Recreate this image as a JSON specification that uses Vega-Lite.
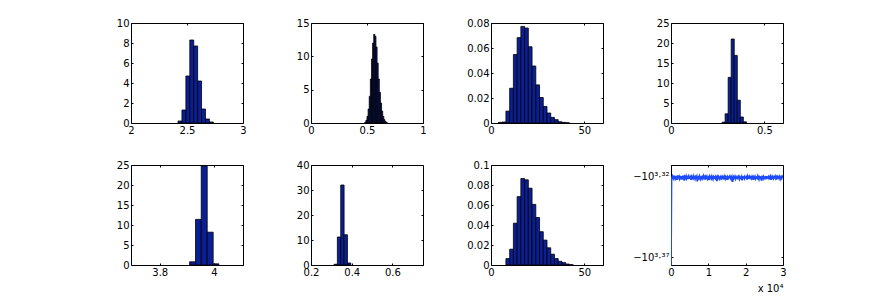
{
"$schema":"https://vega.github.io/schema/vega-lite/v6.json",
"background":"#ffffff",
"padding":{"left":115,"top":17,"right":5,"bottom":5},
"bounds":"flush",
"columns":4,
"spacing":{"row":42,"column":68},
"datasets":{
"hist":[
{"p":1,"a":2.42,"b":2.455,"h":0.2},{"p":1,"a":2.455,"b":2.49,"h":1.3},{"p":1,"a":2.49,"b":2.525,"h":4.7},{"p":1,"a":2.525,"b":2.56,"h":8.3},{"p":1,"a":2.56,"b":2.595,"h":7.7},{"p":1,"a":2.595,"b":2.63,"h":4.2},{"p":1,"a":2.63,"b":2.665,"h":1.4},{"p":1,"a":2.665,"b":2.7,"h":0.4},{"p":1,"a":2.7,"b":2.735,"h":0.1},
{"p":2,"a":0.48,"b":0.49,"h":0.1},{"p":2,"a":0.49,"b":0.5,"h":0.4},{"p":2,"a":0.5,"b":0.51,"h":1.0},{"p":2,"a":0.51,"b":0.52,"h":2.1},{"p":2,"a":0.52,"b":0.53,"h":4.0},{"p":2,"a":0.53,"b":0.54,"h":6.6},{"p":2,"a":0.54,"b":0.55,"h":9.6},{"p":2,"a":0.55,"b":0.56,"h":12.0},{"p":2,"a":0.56,"b":0.57,"h":13.3},{"p":2,"a":0.57,"b":0.58,"h":13.0},{"p":2,"a":0.58,"b":0.59,"h":11.4},{"p":2,"a":0.59,"b":0.6,"h":9.0},{"p":2,"a":0.6,"b":0.61,"h":6.6},{"p":2,"a":0.61,"b":0.62,"h":4.6},{"p":2,"a":0.62,"b":0.63,"h":3.0},{"p":2,"a":0.63,"b":0.64,"h":1.8},{"p":2,"a":0.64,"b":0.65,"h":1.0},{"p":2,"a":0.65,"b":0.66,"h":0.5},{"p":2,"a":0.66,"b":0.67,"h":0.2},{"p":2,"a":0.67,"b":0.68,"h":0.1},
{"p":3,"a":4,"b":6,"h":0.0005},{"p":3,"a":6,"b":8,"h":0.0008},{"p":3,"a":8,"b":10,"h":0.0095},{"p":3,"a":10,"b":12,"h":0.0278},{"p":3,"a":12,"b":14,"h":0.0548},{"p":3,"a":14,"b":16,"h":0.0683},{"p":3,"a":16,"b":18,"h":0.0773},{"p":3,"a":18,"b":20,"h":0.076},{"p":3,"a":20,"b":22,"h":0.061},{"p":3,"a":22,"b":24,"h":0.0456},{"p":3,"a":24,"b":26,"h":0.0305},{"p":3,"a":26,"b":28,"h":0.0204},{"p":3,"a":28,"b":30,"h":0.0132},{"p":3,"a":30,"b":32,"h":0.008},{"p":3,"a":32,"b":34,"h":0.0045},{"p":3,"a":34,"b":36,"h":0.0027},{"p":3,"a":36,"b":38,"h":0.001},{"p":3,"a":38,"b":40,"h":0.0005},{"p":3,"a":40,"b":42,"h":0.0002},
{"p":4,"a":0.2736,"b":0.2899,"h":0.2},{"p":4,"a":0.2899,"b":0.3062,"h":2.3},{"p":4,"a":0.3062,"b":0.3225,"h":11.4},{"p":4,"a":0.3225,"b":0.3388,"h":21.0},{"p":4,"a":0.3388,"b":0.3551,"h":16.9},{"p":4,"a":0.3551,"b":0.3714,"h":5.7},{"p":4,"a":0.3714,"b":0.3877,"h":1.5},{"p":4,"a":0.3877,"b":0.404,"h":0.3},
{"p":5,"a":3.91,"b":3.932,"h":0.8},{"p":5,"a":3.932,"b":3.953,"h":11.4},{"p":5,"a":3.953,"b":3.975,"h":24.8},{"p":5,"a":3.975,"b":3.997,"h":8.2},{"p":5,"a":3.997,"b":4.018,"h":0.3},
{"p":6,"a":0.313,"b":0.3295,"h":0.3},{"p":6,"a":0.3295,"b":0.346,"h":11.2},{"p":6,"a":0.346,"b":0.3625,"h":32.0},{"p":6,"a":0.3625,"b":0.379,"h":12.1},{"p":6,"a":0.379,"b":0.3955,"h":0.8},
{"p":7,"a":8,"b":10,"h":0.0064},{"p":7,"a":10,"b":12,"h":0.0158},{"p":7,"a":12,"b":14,"h":0.0418},{"p":7,"a":14,"b":16,"h":0.0684},{"p":7,"a":16,"b":18,"h":0.0865},{"p":7,"a":18,"b":20,"h":0.0852},{"p":7,"a":20,"b":22,"h":0.0768},{"p":7,"a":22,"b":24,"h":0.0606},{"p":7,"a":24,"b":26,"h":0.0475},{"p":7,"a":26,"b":28,"h":0.0333},{"p":7,"a":28,"b":30,"h":0.0249},{"p":7,"a":30,"b":32,"h":0.0172},{"p":7,"a":32,"b":34,"h":0.0108},{"p":7,"a":34,"b":36,"h":0.0064},{"p":7,"a":36,"b":38,"h":0.0037},{"p":7,"a":38,"b":40,"h":0.0024},{"p":7,"a":40,"b":42,"h":0.001},{"p":7,"a":42,"b":44,"h":0.0003}
],
"trace":[
{"t":0,"e":3.3749},
{"t":150,"e":3.3205},{"t":300,"e":3.3213},{"t":450,"e":3.3201},{"t":600,"e":3.321},{"t":750,"e":3.3218},{"t":900,"e":3.3203},{"t":1050,"e":3.3207},{"t":1200,"e":3.3215},{"t":1350,"e":3.3199},{"t":1500,"e":3.3211},{"t":1650,"e":3.3223},{"t":1800,"e":3.3204},{"t":1950,"e":3.3208},{"t":2100,"e":3.3202},{"t":2250,"e":3.3217},{"t":2400,"e":3.3206},{"t":2550,"e":3.3212},{"t":2700,"e":3.32},{"t":2850,"e":3.3221},{"t":3000,"e":3.3209},
{"t":3150,"e":3.3203},{"t":3300,"e":3.3214},{"t":3450,"e":3.3207},{"t":3600,"e":3.3229},{"t":3750,"e":3.3205},{"t":3900,"e":3.3211},{"t":4050,"e":3.3201},{"t":4200,"e":3.3216},{"t":4350,"e":3.3208},{"t":4500,"e":3.3204},{"t":4650,"e":3.3219},{"t":4800,"e":3.3202},{"t":4950,"e":3.321},{"t":5100,"e":3.3213},{"t":5250,"e":3.3206},{"t":5400,"e":3.3224},{"t":5550,"e":3.3203},{"t":5700,"e":3.3209},{"t":5850,"e":3.3215},{"t":6000,"e":3.32},
{"t":6150,"e":3.3212},{"t":6300,"e":3.3207},{"t":6450,"e":3.3218},{"t":6600,"e":3.3204},{"t":6750,"e":3.321},{"t":6900,"e":3.3202},{"t":7050,"e":3.3233},{"t":7200,"e":3.3208},{"t":7350,"e":3.3205},{"t":7500,"e":3.3214},{"t":7650,"e":3.3201},{"t":7800,"e":3.3211},{"t":7950,"e":3.322},{"t":8100,"e":3.3206},{"t":8250,"e":3.3203},{"t":8400,"e":3.3216},{"t":8550,"e":3.3209},{"t":8700,"e":3.3199},{"t":8850,"e":3.3213},{"t":9000,"e":3.3207},
{"t":9150,"e":3.3222},{"t":9300,"e":3.3204},{"t":9450,"e":3.321},{"t":9600,"e":3.3202},{"t":9750,"e":3.3217},{"t":9900,"e":3.3208},{"t":10050,"e":3.3205},{"t":10200,"e":3.3226},{"t":10350,"e":3.3203},{"t":10500,"e":3.3212},{"t":10650,"e":3.3206},{"t":10800,"e":3.3215},{"t":10950,"e":3.3201},{"t":11100,"e":3.3209},{"t":11250,"e":3.3219},{"t":11400,"e":3.3204},{"t":11550,"e":3.3211},{"t":11700,"e":3.3207},{"t":11850,"e":3.3214},{"t":12000,"e":3.3202},
{"t":12150,"e":3.3208},{"t":12300,"e":3.3231},{"t":12450,"e":3.3205},{"t":12600,"e":3.3213},{"t":12750,"e":3.3203},{"t":12900,"e":3.321},{"t":13050,"e":3.3218},{"t":13200,"e":3.3206},{"t":13350,"e":3.3201},{"t":13500,"e":3.3215},{"t":13650,"e":3.3209},{"t":13800,"e":3.3204},{"t":13950,"e":3.3221},{"t":14100,"e":3.3207},{"t":14250,"e":3.3212},{"t":14400,"e":3.3202},{"t":14550,"e":3.3216},{"t":14700,"e":3.3205},{"t":14850,"e":3.321},{"t":15000,"e":3.3223},
{"t":15150,"e":3.3203},{"t":15300,"e":3.3208},{"t":15450,"e":3.3214},{"t":15600,"e":3.3206},{"t":15750,"e":3.32},{"t":15900,"e":3.3211},{"t":16050,"e":3.3219},{"t":16200,"e":3.3204},{"t":16350,"e":3.3209},{"t":16500,"e":3.3237},{"t":16650,"e":3.3205},{"t":16800,"e":3.3213},{"t":16950,"e":3.3202},{"t":17100,"e":3.3207},{"t":17250,"e":3.3217},{"t":17400,"e":3.3203},{"t":17550,"e":3.321},{"t":17700,"e":3.3215},{"t":17850,"e":3.3206},{"t":18000,"e":3.3201},
{"t":18150,"e":3.3212},{"t":18300,"e":3.322},{"t":18450,"e":3.3204},{"t":18600,"e":3.3208},{"t":18750,"e":3.3214},{"t":18900,"e":3.3205},{"t":19050,"e":3.3227},{"t":19200,"e":3.3202},{"t":19350,"e":3.3211},{"t":19500,"e":3.3207},{"t":19650,"e":3.3216},{"t":19800,"e":3.3203},{"t":19950,"e":3.3209},{"t":20100,"e":3.3213},{"t":20250,"e":3.3206},{"t":20400,"e":3.3222},{"t":20550,"e":3.3201},{"t":20700,"e":3.321},{"t":20850,"e":3.3205},{"t":21000,"e":3.3218},
{"t":21150,"e":3.3204},{"t":21300,"e":3.3212},{"t":21450,"e":3.3207},{"t":21600,"e":3.3215},{"t":21750,"e":3.3202},{"t":21900,"e":3.3209},{"t":22050,"e":3.3224},{"t":22200,"e":3.3205},{"t":22350,"e":3.3211},{"t":22500,"e":3.3203},{"t":22650,"e":3.3217},{"t":22800,"e":3.3208},{"t":22950,"e":3.3206},{"t":23100,"e":3.3213},{"t":23250,"e":3.32},{"t":23400,"e":3.321},{"t":23550,"e":3.322},{"t":23700,"e":3.3204},{"t":23850,"e":3.3207},{"t":24000,"e":3.3214},
{"t":24150,"e":3.3202},{"t":24300,"e":3.3229},{"t":24450,"e":3.3206},{"t":24600,"e":3.3211},{"t":24750,"e":3.3203},{"t":24900,"e":3.3216},{"t":25050,"e":3.3208},{"t":25200,"e":3.3205},{"t":25350,"e":3.3212},{"t":25500,"e":3.3201},{"t":25650,"e":3.3219},{"t":25800,"e":3.3207},{"t":25950,"e":3.321},{"t":26100,"e":3.3204},{"t":26250,"e":3.3215},{"t":26400,"e":3.3209},{"t":26550,"e":3.3202},{"t":26700,"e":3.3223},{"t":26850,"e":3.3206},{"t":27000,"e":3.3213},
{"t":27150,"e":3.3203},{"t":27300,"e":3.3211},{"t":27450,"e":3.3217},{"t":27600,"e":3.3205},{"t":27750,"e":3.3208},{"t":27900,"e":3.3201},{"t":28050,"e":3.3214},{"t":28200,"e":3.3207},{"t":28350,"e":3.3221},{"t":28500,"e":3.3204},{"t":28650,"e":3.321},{"t":28800,"e":3.3206},{"t":28950,"e":3.3215},{"t":29100,"e":3.3202},{"t":29250,"e":3.3209},{"t":29400,"e":3.3218},{"t":29550,"e":3.3205},{"t":29700,"e":3.3212},{"t":29850,"e":3.3203},{"t":30000,"e":3.3208}
]
},
"concat":[
{"width":112,"height":100,"data":{"name":"hist"},"transform":[{"filter":"datum.p==1"}],"resolve":{"axis":{"x":"independent","y":"independent"}},"layer":[
 {"mark":{"type":"rect","fill":"#0a1e96","stroke":"#000000","strokeWidth":0.8},
 "encoding":{"x":{"field":"a","type":"quantitative","title":null,"scale":{"domain":[2,3],"nice":false,"zero":false},"axis":{"orient":"bottom","values":[2,2.5,3]}},"x2":{"field":"b"},
 "y":{"field":"h","type":"quantitative","title":null,"scale":{"domain":[0,10],"nice":false},"axis":{"orient":"left","values":[0,2,4,6,8,10]}},"y2":{"datum":0}}},
 {"mark":{"type":"rect","opacity":0},
 "encoding":{"x":{"field":"a","type":"quantitative","title":null,"axis":{"orient":"top","labels":false,"values":[2,2.5,3]}},"x2":{"field":"b"},
 "y":{"field":"h","type":"quantitative","title":null,"axis":{"orient":"right","labels":false,"values":[0,2,4,6,8,10]}},"y2":{"datum":0}}}]},
{"width":112,"height":100,"data":{"name":"hist"},"transform":[{"filter":"datum.p==2"}],"resolve":{"axis":{"x":"independent","y":"independent"}},"layer":[
 {"mark":{"type":"rect","fill":"#0a1e96","stroke":"#000000","strokeWidth":0.8},
 "encoding":{"x":{"field":"a","type":"quantitative","title":null,"scale":{"domain":[0,1],"nice":false,"zero":false},"axis":{"orient":"bottom","values":[0,0.5,1]}},"x2":{"field":"b"},
 "y":{"field":"h","type":"quantitative","title":null,"scale":{"domain":[0,15],"nice":false},"axis":{"orient":"left","values":[0,5,10,15]}},"y2":{"datum":0}}},
 {"mark":{"type":"rect","opacity":0},
 "encoding":{"x":{"field":"a","type":"quantitative","title":null,"axis":{"orient":"top","labels":false,"values":[0,0.5,1]}},"x2":{"field":"b"},
 "y":{"field":"h","type":"quantitative","title":null,"axis":{"orient":"right","labels":false,"values":[0,5,10,15]}},"y2":{"datum":0}}}]},
{"width":112,"height":100,"data":{"name":"hist"},"transform":[{"filter":"datum.p==3"}],"resolve":{"axis":{"x":"independent","y":"independent"}},"layer":[
 {"mark":{"type":"rect","fill":"#0a1e96","stroke":"#000000","strokeWidth":0.8},
 "encoding":{"x":{"field":"a","type":"quantitative","title":null,"scale":{"domain":[0,60],"nice":false,"zero":false},"axis":{"orient":"bottom","values":[0,50]}},"x2":{"field":"b"},
 "y":{"field":"h","type":"quantitative","title":null,"scale":{"domain":[0,0.08],"nice":false},"axis":{"orient":"left","values":[0,0.02,0.04,0.06,0.08]}},"y2":{"datum":0}}},
 {"mark":{"type":"rect","opacity":0},
 "encoding":{"x":{"field":"a","type":"quantitative","title":null,"axis":{"orient":"top","labels":false,"values":[0,50]}},"x2":{"field":"b"},
 "y":{"field":"h","type":"quantitative","title":null,"axis":{"orient":"right","labels":false,"values":[0,0.02,0.04,0.06,0.08]}},"y2":{"datum":0}}}]},
{"width":112,"height":100,"data":{"name":"hist"},"transform":[{"filter":"datum.p==4"}],"resolve":{"axis":{"x":"independent","y":"independent"}},"layer":[
 {"mark":{"type":"rect","fill":"#0a1e96","stroke":"#000000","strokeWidth":0.8},
 "encoding":{"x":{"field":"a","type":"quantitative","title":null,"scale":{"domain":[0,0.6],"nice":false,"zero":false},"axis":{"orient":"bottom","values":[0,0.5]}},"x2":{"field":"b"},
 "y":{"field":"h","type":"quantitative","title":null,"scale":{"domain":[0,25],"nice":false},"axis":{"orient":"left","values":[0,5,10,15,20,25]}},"y2":{"datum":0}}},
 {"mark":{"type":"rect","opacity":0},
 "encoding":{"x":{"field":"a","type":"quantitative","title":null,"axis":{"orient":"top","labels":false,"values":[0,0.5]}},"x2":{"field":"b"},
 "y":{"field":"h","type":"quantitative","title":null,"axis":{"orient":"right","labels":false,"values":[0,5,10,15,20,25]}},"y2":{"datum":0}}}]},
{"width":112,"height":100,"data":{"name":"hist"},"transform":[{"filter":"datum.p==5"}],"resolve":{"axis":{"x":"independent","y":"independent"}},"layer":[
 {"mark":{"type":"rect","fill":"#0a1e96","stroke":"#000000","strokeWidth":0.8},
 "encoding":{"x":{"field":"a","type":"quantitative","title":null,"scale":{"domain":[3.694,4.107],"nice":false,"zero":false},"axis":{"orient":"bottom","values":[3.8,4]}},"x2":{"field":"b"},
 "y":{"field":"h","type":"quantitative","title":null,"scale":{"domain":[0,25],"nice":false},"axis":{"orient":"left","values":[0,5,10,15,20,25]}},"y2":{"datum":0}}},
 {"mark":{"type":"rect","opacity":0},
 "encoding":{"x":{"field":"a","type":"quantitative","title":null,"axis":{"orient":"top","labels":false,"values":[3.8,4]}},"x2":{"field":"b"},
 "y":{"field":"h","type":"quantitative","title":null,"axis":{"orient":"right","labels":false,"values":[0,5,10,15,20,25]}},"y2":{"datum":0}}}]},
{"width":112,"height":100,"data":{"name":"hist"},"transform":[{"filter":"datum.p==6"}],"resolve":{"axis":{"x":"independent","y":"independent"}},"layer":[
 {"mark":{"type":"rect","fill":"#0a1e96","stroke":"#000000","strokeWidth":0.8},
 "encoding":{"x":{"field":"a","type":"quantitative","title":null,"scale":{"domain":[0.2,0.75],"nice":false,"zero":false},"axis":{"orient":"bottom","values":[0.2,0.4,0.6]}},"x2":{"field":"b"},
 "y":{"field":"h","type":"quantitative","title":null,"scale":{"domain":[0,40],"nice":false},"axis":{"orient":"left","values":[0,10,20,30,40]}},"y2":{"datum":0}}},
 {"mark":{"type":"rect","opacity":0},
 "encoding":{"x":{"field":"a","type":"quantitative","title":null,"axis":{"orient":"top","labels":false,"values":[0.2,0.4,0.6]}},"x2":{"field":"b"},
 "y":{"field":"h","type":"quantitative","title":null,"axis":{"orient":"right","labels":false,"values":[0,10,20,30,40]}},"y2":{"datum":0}}}]},
{"width":112,"height":100,"data":{"name":"hist"},"transform":[{"filter":"datum.p==7"}],"resolve":{"axis":{"x":"independent","y":"independent"}},"layer":[
 {"mark":{"type":"rect","fill":"#0a1e96","stroke":"#000000","strokeWidth":0.8},
 "encoding":{"x":{"field":"a","type":"quantitative","title":null,"scale":{"domain":[0,60],"nice":false,"zero":false},"axis":{"orient":"bottom","values":[0,50]}},"x2":{"field":"b"},
 "y":{"field":"h","type":"quantitative","title":null,"scale":{"domain":[0,0.1],"nice":false},"axis":{"orient":"left","values":[0,0.02,0.04,0.06,0.08,0.1]}},"y2":{"datum":0}}},
 {"mark":{"type":"rect","opacity":0},
 "encoding":{"x":{"field":"a","type":"quantitative","title":null,"axis":{"orient":"top","labels":false,"values":[0,50]}},"x2":{"field":"b"},
 "y":{"field":"h","type":"quantitative","title":null,"axis":{"orient":"right","labels":false,"values":[0,0.02,0.04,0.06,0.08,0.1]}},"y2":{"datum":0}}}]},
{"width":112,"height":100,"data":{"name":"trace"},"resolve":{"axis":{"x":"independent","y":"independent"}},"layer":[
 {"mark":{"type":"line","color":"#1f4bff","strokeWidth":1.7,"clip":true},
 "encoding":{"x":{"field":"t","type":"quantitative","title":"x 10⁴","scale":{"domain":[0,30000],"nice":false,"zero":false},"axis":{"orient":"bottom","values":[0,10000,20000,30000],"labelExpr":"'' + (datum.value/10000)","titleAnchor":"end","titleFontWeight":"normal","titleFontSize":10,"titlePadding":6,"titleColor":"#000000"}},
 "y":{"field":"e","type":"quantitative","title":null,"scale":{"domain":[3.3132,3.3749],"reverse":true,"nice":false,"zero":false},"axis":{"orient":"left","values":[3.32,3.37],"labelExpr":"datum.value < 3.34 ? '−10³·³²' : '−10³·³⁷'"}}}},
 {"mark":{"type":"line","opacity":0},
 "encoding":{"x":{"field":"t","type":"quantitative","title":null,"axis":{"orient":"top","labels":false,"values":[0,10000,20000,30000]}},
 "y":{"field":"e","type":"quantitative","title":null,"axis":{"orient":"right","labels":false,"values":[3.32,3.37]}}}}]}
],
"config":{
 "font":"DejaVu Sans",
 "view":{"stroke":"#000000","strokeWidth":1},
 "axis":{"grid":false,"domain":false,"tickColor":"#000000","tickSize":-2,"labelFontSize":10,"labelColor":"#000000","labelFlush":false,"labelOverlap":false,"labelPadding":4,"format":"~r"}
}
}
